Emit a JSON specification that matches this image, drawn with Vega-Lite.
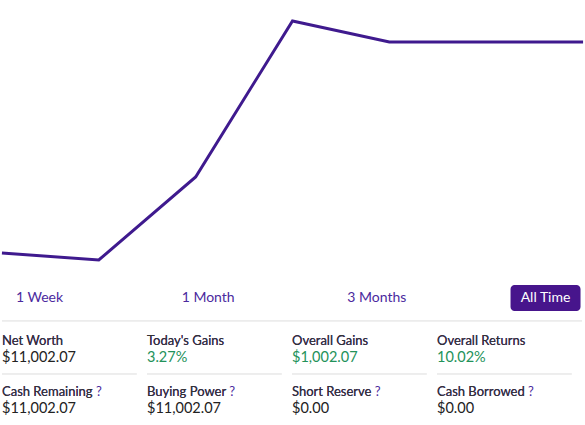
{
  "$schema": "https://vega.github.io/schema/vega-lite/v6.json",
  "padding": 0,
  "spacing": 0,
  "bounds": "flush",
  "background": "white",
  "config": {"view": {"stroke": null}, "font": "Lato", "concat": {"spacing": 0}},
  "vconcat": [
    {
      "width": 585,
      "height": 280,
      "data": {"values": [
        {"t": 0, "worth": 10032.2},
        {"t": 1, "worth": 10000.0},
        {"t": 2, "worth": 10381.6},
        {"t": 3, "worth": 11098.7},
        {"t": 4, "worth": 11002.07},
        {"t": 5, "worth": 11002.07},
        {"t": 6, "worth": 11002.07}
      ]},
      "mark": {"type": "line", "color": "#3f1a8e", "strokeWidth": 3, "strokeJoin": "miter", "clip": true},
      "encoding": {
        "x": {"field": "t", "type": "quantitative", "scale": {"domain": [-0.02, 6.02], "nice": false, "zero": false}, "axis": null},
        "y": {"field": "worth", "type": "quantitative", "scale": {"domain": [9908.06, 11195.2], "nice": false, "zero": false}, "axis": null}
      }
    },
    {
      "width": 585,
      "height": 36,
      "data": {"values": [
        {"label": "1 Week", "active": false, "bar": "range"},
        {"label": "1 Month", "active": false, "bar": "range"},
        {"label": "3 Months", "active": false, "bar": "range"},
        {"label": "All Time", "active": true, "bar": "range"}
      ]},
      "encoding": {
        "x": {"field": "label", "type": "nominal", "scale": {"type": "point", "padding": 0.234, "domain": ["1 Week", "1 Month", "3 Months", "All Time"]}, "axis": null},
        "y": {"field": "bar", "type": "nominal", "scale": {"type": "point", "padding": 0.5}, "axis": null}
      },
      "layer": [
        {
          "transform": [{"filter": "datum.active"}],
          "mark": {"type": "rect", "width": 70, "height": 26, "cornerRadius": 4, "fill": "#47158c"}
        },
        {
          "mark": {"type": "text", "fontSize": 14, "baseline": "middle", "align": "center"},
          "encoding": {
            "text": {"field": "label"},
            "color": {"condition": {"test": "datum.active", "value": "#ffffff"}, "value": "#4b2a9e"}
          }
        }
      ]
    },
    {
      "width": 585,
      "height": 109,
      "layer": [
        {
          "data": {"values": [
            {"c0": 0, "c1": 4.0, "r": -0.54},
            {"c0": 0, "c1": 0.93, "r": 0.5},
            {"c0": 1, "c1": 1.93, "r": 0.5},
            {"c0": 2, "c1": 2.93, "r": 0.5},
            {"c0": 3, "c1": 3.93, "r": 0.5}
          ]},
          "mark": {"type": "rule", "color": "#dddddd", "strokeWidth": 1},
          "encoding": {
            "x": {"field": "c0", "type": "quantitative", "scale": {"domain": [-0.0138, 4.0207], "nice": false, "zero": false}, "axis": null},
            "x2": {"field": "c1"},
            "y": {"field": "r", "type": "quantitative", "scale": {"domain": [-0.637, 1.5], "nice": false, "zero": false, "reverse": true}, "axis": null}
          }
        },
        {
          "data": {"name": "stats", "values": [
            {"col": 0, "row": 0, "label": "Net Worth", "hinted": "Net Worth", "value": "$11,002.07", "tone": "plain"},
            {"col": 1, "row": 0, "label": "Today's Gains", "hinted": "Today's Gains", "value": "3.27%", "tone": "gain"},
            {"col": 2, "row": 0, "label": "Overall Gains", "hinted": "Overall Gains", "value": "$1,002.07", "tone": "gain"},
            {"col": 3, "row": 0, "label": "Overall Returns", "hinted": "Overall Returns", "value": "10.02%", "tone": "gain"},
            {"col": 0, "row": 1, "label": "Cash Remaining", "hinted": "Cash Remaining ?", "value": "$11,002.07", "tone": "plain"},
            {"col": 1, "row": 1, "label": "Buying Power", "hinted": "Buying Power ?", "value": "$11,002.07", "tone": "plain"},
            {"col": 2, "row": 1, "label": "Short Reserve", "hinted": "Short Reserve ?", "value": "$0.00", "tone": "plain"},
            {"col": 3, "row": 1, "label": "Cash Borrowed", "hinted": "Cash Borrowed ?", "value": "$0.00", "tone": "plain"}
          ]},
          "encoding": {
            "x": {"field": "col", "type": "quantitative", "scale": {"domain": [-0.0138, 4.0207], "nice": false, "zero": false}, "axis": null},
            "y": {"field": "row", "type": "quantitative", "scale": {"domain": [-0.637, 1.5], "nice": false, "zero": false, "reverse": true}, "axis": null}
          },
          "layer": [
            {
              "mark": {"type": "text", "align": "left", "baseline": "middle", "fontSize": 13, "dy": -7.5, "color": "#4b2a9e"},
              "encoding": {"text": {"field": "hinted"}}
            },
            {
              "mark": {"type": "text", "align": "left", "baseline": "middle", "fontSize": 13, "dy": -7.5, "color": "#333333"},
              "encoding": {"text": {"field": "label"}}
            },
            {
              "mark": {"type": "text", "align": "left", "baseline": "middle", "fontSize": 14.5, "dy": 10},
              "encoding": {
                "text": {"field": "value"},
                "color": {"field": "tone", "type": "nominal", "scale": {"domain": ["plain", "gain"], "range": ["#222222", "#23925a"]}, "legend": null}
              }
            }
          ]
        }
      ]
    }
  ]
}
